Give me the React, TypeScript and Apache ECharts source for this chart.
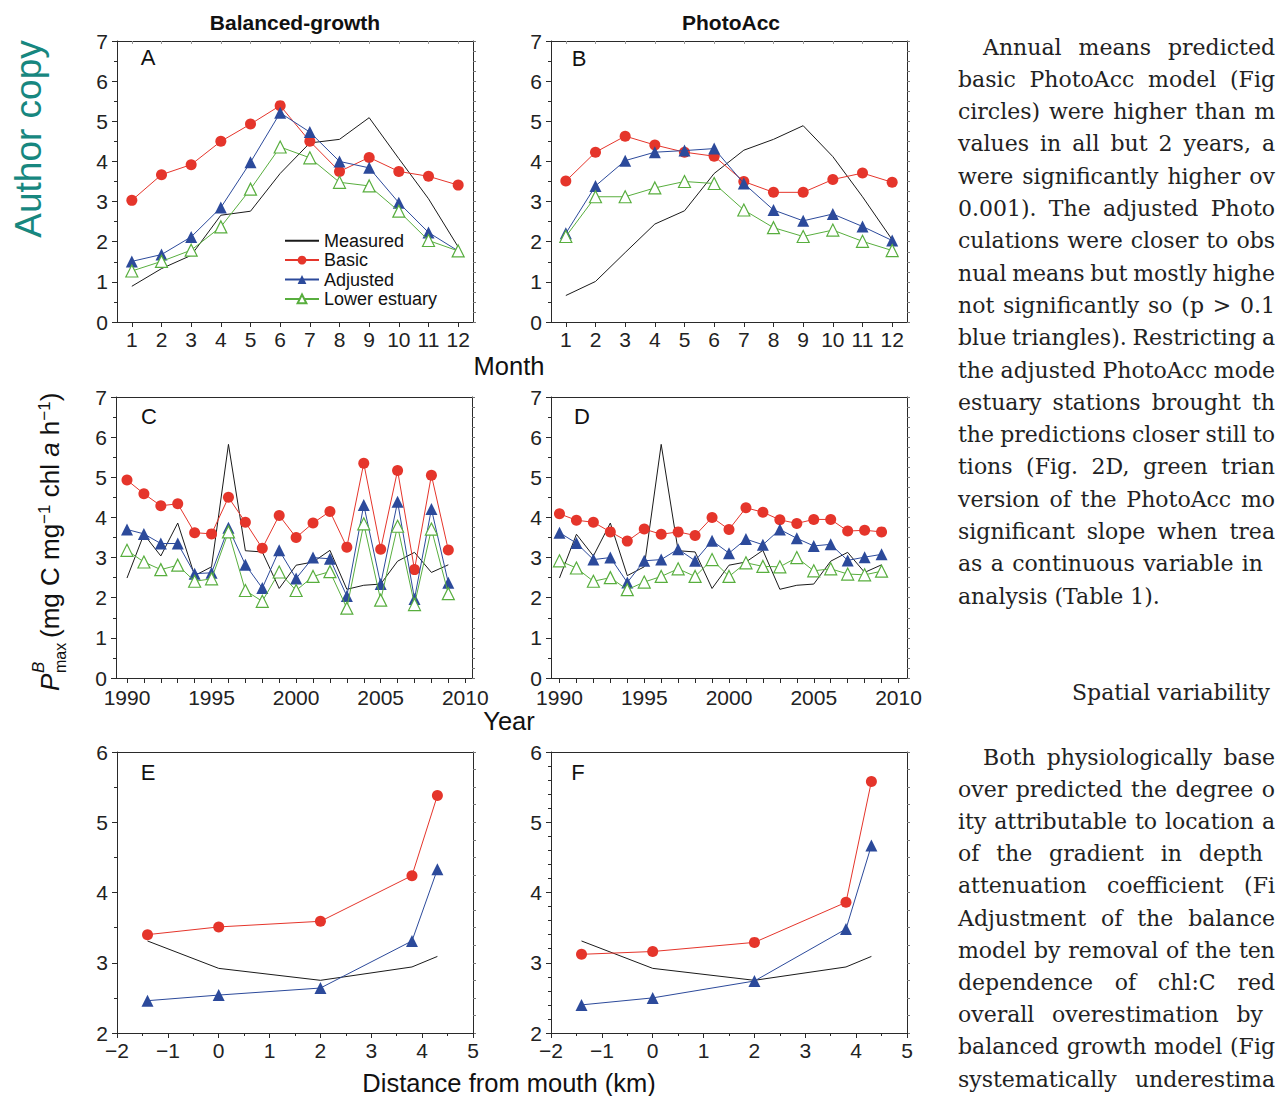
import React, { useEffect, useRef } from "react";
import * as echarts from "echarts";

// ---------- data ----------
const months = [1, 2, 3, 4, 5, 6, 7, 8, 9, 10, 11, 12];
const years = [1990, 1991, 1992, 1993, 1994, 1995, 1996, 1997, 1998, 1999, 2000, 2001, 2002, 2003, 2004, 2005, 2006, 2007, 2008, 2009];
const yearLabelValues = [1990, 1995, 2000, 2005, 2010];
const yearTickValues = [1990, 1991, 1992, 1993, 1994, 1995, 1996, 1997, 1998, 1999, 2000, 2001, 2002, 2003, 2004, 2005, 2006, 2007, 2008, 2009, 2010];
const distances = [-1.4, 0, 2, 3.8, 4.3];

const measuredBalancedMonthly = [0.89, 1.33, 1.66, 2.66, 2.76, 3.7, 4.46, 4.55, 5.09, 4.07, 3.07, 1.87];
const basicBalancedMonthly = [3.03, 3.67, 3.92, 4.5, 4.93, 5.39, 4.5, 3.75, 4.1, 3.75, 3.63, 3.41];
const adjustedBalancedMonthly = [1.51, 1.68, 2.12, 2.85, 3.98, 5.21, 4.73, 4.0, 3.84, 2.97, 2.23, 1.77];
const lowerBalancedMonthly = [1.27, 1.51, 1.79, 2.37, 3.31, 4.36, 4.09, 3.48, 3.39, 2.76, 2.03, 1.77];

const measuredPhotoMonthly = [0.66, 1.01, 1.73, 2.44, 2.77, 3.7, 4.28, 4.55, 4.89, 4.12, 3.12, 2.05];
const basicPhotoMonthly = [3.51, 4.23, 4.63, 4.41, 4.23, 4.13, 3.5, 3.23, 3.23, 3.55, 3.71, 3.48];
const adjustedPhotoMonthly = [2.21, 3.39, 4.02, 4.23, 4.27, 4.32, 3.45, 2.79, 2.52, 2.69, 2.38, 2.03];
const lowerPhotoMonthly = [2.13, 3.12, 3.12, 3.34, 3.5, 3.45, 2.79, 2.35, 2.13, 2.29, 2.01, 1.78];

const measuredAnnual = [2.49, 3.58, 3.04, 3.86, 2.55, 2.77, 5.82, 3.17, 3.14, 2.23, 2.81, 2.89, 3.18, 2.21, 2.31, 2.34, 2.91, 3.13, 2.63, 2.82];
const basicBalancedAnnual = [4.93, 4.59, 4.29, 4.34, 3.62, 3.59, 4.5, 3.88, 3.23, 4.05, 3.5, 3.86, 4.15, 3.26, 5.35, 3.21, 5.17, 2.7, 5.05, 3.19];
const adjustedBalancedAnnual = [3.7, 3.59, 3.35, 3.35, 2.6, 2.62, 3.74, 2.82, 2.24, 3.18, 2.48, 3.0, 2.97, 2.04, 4.31, 2.34, 4.39, 1.97, 4.21, 2.37];
const lowerBalancedAnnual = [3.18, 2.89, 2.7, 2.81, 2.41, 2.47, 3.64, 2.18, 1.91, 2.64, 2.18, 2.53, 2.65, 1.74, 3.84, 1.94, 3.78, 1.83, 3.71, 2.1];
const basicPhotoAnnual = [4.09, 3.93, 3.88, 3.64, 3.41, 3.71, 3.58, 3.64, 3.55, 4.0, 3.7, 4.24, 4.13, 3.94, 3.85, 3.95, 3.95, 3.66, 3.68, 3.64];
const adjustedPhotoAnnual = [3.62, 3.36, 2.95, 3.0, 2.38, 2.92, 2.95, 3.21, 2.92, 3.42, 3.11, 3.46, 3.32, 3.7, 3.48, 3.29, 3.33, 2.93, 3.01, 3.08];
const lowerPhotoAnnual = [2.92, 2.74, 2.41, 2.5, 2.2, 2.39, 2.53, 2.72, 2.53, 2.95, 2.53, 2.87, 2.78, 2.77, 3.0, 2.67, 2.72, 2.59, 2.57, 2.66];

const measuredSpatial = [3.31, 2.92, 2.75, 2.94, 3.09];
const basicBalancedSpatial = [3.4, 3.51, 3.59, 4.24, 5.38];
const adjustedBalancedSpatial = [2.46, 2.54, 2.64, 3.31, 4.33];
const basicPhotoSpatial = [3.12, 3.16, 3.29, 3.86, 5.58];
const adjustedPhotoSpatial = [2.4, 2.5, 2.74, 3.48, 4.67];

const seriesNames = ["Measured", "Basic", "Adjusted", "Lower estuary"];
const columnTitles = ["Balanced-growth", "PhotoAcc"];
const panelLetters = ["A", "B", "C", "D", "E", "F"];

// ---------- body text ----------
const paragraph1 = [
  "Annual means predicted",
  "basic PhotoAcc model (Fig",
  "circles) were higher than m",
  "values in all but 2 years, a",
  "were significantly higher ov",
  "0.001). The adjusted Photo",
  "culations were closer to obs",
  "nual means but mostly highe",
  "not significantly so (p > 0.1",
  "blue triangles). Restricting a",
  "the adjusted PhotoAcc mode",
  "estuary stations brought th",
  "the predictions closer still to",
  "tions (Fig. 2D, green trian",
  "version of the PhotoAcc mo",
  "significant slope when trea",
  "as a continuous variable in",
  "analysis (Table 1).",
];
const heading2 = "Spatial variability";
const paragraph2 = [
  "Both physiologically base",
  "over predicted the degree o",
  "ity attributable to location a",
  "of the gradient in depth",
  "attenuation coefficient (Fi",
  "Adjustment of the balance",
  "model by removal of the ten",
  "dependence of chl:C red",
  "overall overestimation by",
  "balanced growth model (Fig",
  "systematically underestima",
];

// ---------- styles ----------
const SANS = "Liberation Sans";
const SERIF = "DejaVu Serif";
const AXIS = "#2a2a2a";
const RED = "#e5352b";
const BLUE = "#2c4a9b";
const GREEN = "#58ae3e";
const BLACK = "#1a1a1a";
const TEXT = "#222222";
const PW = 356;
const PH = 281;

const fmt = (v: number) => (v < 0 ? "\u2212" + Math.abs(v) : String(v));

const seriesStyles: any[] = [
  { symbol: "none", lineStyle: { color: BLACK, width: 1 }, itemStyle: { color: BLACK }, z: 2 },
  { symbol: "circle", symbolSize: 11, lineStyle: { color: RED, width: 1 }, itemStyle: { color: RED }, z: 3 },
  { symbol: "triangle", symbolSize: 12, lineStyle: { color: BLUE, width: 1 }, itemStyle: { color: BLUE }, z: 4 },
  { symbol: "triangle", symbolSize: 12, lineStyle: { color: GREEN, width: 1 }, itemStyle: { color: "#ffffff", borderColor: GREEN, borderWidth: 1.2 }, z: 5 },
];

type Panel = {
  box: [number, number];
  xs: number[];
  xMin: number;
  xMax: number;
  xInterval?: number;
  xMinor?: number;
  xLabels?: number[];
  xTicks?: number[];
  topTicks?: number[];
  xLabelMargin: number;
  yMin: number;
  yMax: number;
  yMinor: number;
  values: (number[] | null)[];
  letterPos: [number, number];
};

const panels: Panel[] = [
  { box: [117, 41], xs: months, xMin: 0.5, xMax: 12.5, xLabels: months, xTicks: months, topTicks: months, xLabelMargin: 8.5, yMin: 0, yMax: 7, yMinor: 2,
    values: [measuredBalancedMonthly, basicBalancedMonthly, adjustedBalancedMonthly, lowerBalancedMonthly], letterPos: [148, 57] },
  { box: [551, 41], xs: months, xMin: 0.5, xMax: 12.5, xLabels: months, xTicks: months, topTicks: months, xLabelMargin: 8.5, yMin: 0, yMax: 7, yMinor: 2,
    values: [measuredPhotoMonthly, basicPhotoMonthly, adjustedPhotoMonthly, lowerPhotoMonthly], letterPos: [579, 58] },
  { box: [116, 397], xs: years, xMin: 1989.35, xMax: 2010.4, xLabels: yearLabelValues, xTicks: yearTickValues, xLabelMargin: 10.5, yMin: 0, yMax: 7, yMinor: 2,
    values: [measuredAnnual, basicBalancedAnnual, adjustedBalancedAnnual, lowerBalancedAnnual], letterPos: [149, 416] },
  { box: [551, 397], xs: years, xMin: 1989.5, xMax: 2010.5, xLabels: yearLabelValues, xTicks: yearTickValues, xLabelMargin: 10.5, yMin: 0, yMax: 7, yMinor: 2,
    values: [measuredAnnual, basicPhotoAnnual, adjustedPhotoAnnual, lowerPhotoAnnual], letterPos: [582, 416] },
  { box: [117, 752], xs: distances, xMin: -2, xMax: 5, xInterval: 1, xMinor: 2, xLabelMargin: 8.5, yMin: 2, yMax: 6, yMinor: 2,
    values: [measuredSpatial, basicBalancedSpatial, adjustedBalancedSpatial, null], letterPos: [148, 772] },
  { box: [551, 752], xs: distances, xMin: -2, xMax: 5, xInterval: 1, xMinor: 2, xLabelMargin: 8.5, yMin: 2, yMax: 6, yMinor: 5,
    values: [measuredSpatial, basicPhotoSpatial, adjustedPhotoSpatial, null], letterPos: [578, 772] },
];

// ---------- text layout helpers ----------
let measureCtx: CanvasRenderingContext2D | null = null;
const TEXT_SIZE = 22;
function measure(s: string): number {
  if (!measureCtx) measureCtx = document.createElement("canvas").getContext("2d");
  if (!measureCtx) return s.length * TEXT_SIZE * 0.58;
  measureCtx.font = `${TEXT_SIZE}px "${SERIF}"`;
  return measureCtx.measureText(s).width;
}

function textEl(text: string, x: number, y: number, extra: any = {}) {
  return {
    type: "text",
    x,
    y,
    silent: true,
    style: {
      text,
      fill: TEXT,
      fontSize: TEXT_SIZE,
      fontFamily: SERIF,
      align: "left",
      textAlign: "left",
      verticalAlign: "middle",
      textVerticalAlign: "middle",
      ...extra,
    },
  };
}

function justifiedLine(text: string, x0: number, y: number, right: number | null) {
  const words = text.split(" ");
  if (right === null || words.length < 2) return [textEl(text, x0, y)];
  const widths = words.map(measure);
  const total = widths.reduce((a, b) => a + b, 0);
  const gap = Math.max(measure(" ") * 0.7, (right - x0 - total) / (words.length - 1));
  const out: any[] = [];
  let x = x0;
  words.forEach((w, i) => {
    out.push(textEl(w, x, y));
    x += widths[i] + gap;
  });
  return out;
}

function buildOption() {
  const grid: any[] = [];
  const xAxis: any[] = [];
  const yAxis: any[] = [];
  const series: any[] = [];
  const tickStyle = { color: AXIS, width: 1 };

  panels.forEach((p, i) => {
    grid.push({ left: p.box[0], top: p.box[1], width: PW, height: PH, containLabel: false });
    xAxis.push({
      type: "value", gridIndex: i, position: "bottom", min: p.xMin, max: p.xMax,
      ...(p.xInterval ? { interval: p.xInterval } : {}),
      axisLine: { show: true, onZero: false, lineStyle: tickStyle },
      axisTick: { show: true, inside: false, length: 5, lineStyle: tickStyle, ...(p.xTicks ? { customValues: p.xTicks } : {}) },
      minorTick: p.xMinor ? { show: true, splitNumber: p.xMinor, length: 3, lineStyle: tickStyle } : { show: false },
      axisLabel: { show: true, fontSize: 21, lineHeight: 17, color: TEXT, fontFamily: SANS, margin: p.xLabelMargin, formatter: fmt, ...(p.xLabels ? { customValues: p.xLabels } : {}) },
      splitLine: { show: false },
    });
    xAxis.push({
      type: "value", gridIndex: i, position: "top", min: p.xMin, max: p.xMax,
      ...(p.xInterval ? { interval: p.xInterval } : {}),
      axisLine: { show: true, onZero: false, lineStyle: tickStyle },
      axisTick: p.topTicks ? { show: true, inside: true, length: 3, lineStyle: { color: "#9a9a9a" }, customValues: p.topTicks } : { show: false },
      axisLabel: { show: false },
      splitLine: { show: false },
    });
    yAxis.push({
      type: "value", gridIndex: i, position: "left", min: p.yMin, max: p.yMax, interval: 1,
      axisLine: { show: true, onZero: false, lineStyle: tickStyle },
      axisTick: { show: true, inside: false, length: 5, lineStyle: tickStyle },
      minorTick: { show: true, splitNumber: p.yMinor, length: 3, lineStyle: tickStyle },
      axisLabel: { show: true, fontSize: 21, lineHeight: 14, color: TEXT, fontFamily: SANS, margin: 9 },
      splitLine: { show: false },
    });
    yAxis.push({
      type: "value", gridIndex: i, position: "right", min: p.yMin, max: p.yMax, interval: 1,
      axisLine: { show: true, onZero: false, lineStyle: tickStyle },
      axisTick: { show: true, inside: false, length: 3, lineStyle: { color: "#777" } },
      minorTick: { show: true, splitNumber: 4, length: 3, lineStyle: { color: "#777" } },
      axisLabel: { show: false },
      splitLine: { show: false },
    });
    p.values.forEach((vals, k) => {
      if (!vals) return;
      series.push({
        type: "line",
        name: seriesNames[k],
        xAxisIndex: i * 2,
        yAxisIndex: i * 2,
        data: p.xs.map((x, j) => [x, vals[j]]),
        ...seriesStyles[k],
      });
    });
  });

  const elements: any[] = [];
  // column titles
  elements.push(textEl(columnTitles[0], 295, 22, { fontFamily: SANS, fontSize: 21, fontWeight: "bold", fill: "#111", align: "center", textAlign: "center" }));
  elements.push(textEl(columnTitles[1], 731, 22, { fontFamily: SANS, fontSize: 21, fontWeight: "bold", fill: "#111", align: "center", textAlign: "center" }));
  // panel letters
  panels.forEach((p, i) => {
    elements.push(textEl(panelLetters[i], p.letterPos[0], p.letterPos[1], { fontFamily: SANS, fontSize: 22, fill: "#111", align: "center", textAlign: "center" }));
  });
  // axis titles
  const axisTitle = { fontFamily: SANS, fontSize: 25.5, fill: "#111", align: "center", textAlign: "center" };
  elements.push(textEl("Month", 509, 366, axisTitle));
  elements.push(textEl("Year", 509, 721, axisTitle));
  elements.push(textEl("Distance from mouth (km)", 509, 1083, axisTitle));
  // y axis title (rotated)
  const yl = { fontFamily: SANS, fill: "#111" };
  elements.push({
    type: "group",
    x: 50,
    y: 534,
    rotation: Math.PI / 2,
    silent: true,
    children: [
      textEl("P", -157, 0, { ...yl, fontSize: 26, fontStyle: "italic" }),
      textEl("B", -139, -12, { ...yl, fontSize: 17, fontStyle: "italic" }),
      textEl("max", -139, 10, { ...yl, fontSize: 16 }),
      textEl("(mg C mg{s|\u22121} chl {i|a} h{s|\u22121})", -104, 0, {
        ...yl, fontSize: 26,
        rich: {
          i: { ...yl, fontSize: 26, fontStyle: "italic" },
          s: { ...yl, fontSize: 17, verticalAlign: "top", padding: [0, 0, 12, 0] },
        },
      }),
    ],
  });
  // author copy
  elements.push({
    type: "text",
    x: 28,
    y: 139,
    rotation: Math.PI / 2,
    silent: true,
    style: { text: "Author copy", fill: "#17877f", fontSize: 37, fontFamily: SANS, align: "center", textAlign: "center", verticalAlign: "middle", textVerticalAlign: "middle" },
  });
  // body text
  const R = 1275;
  const rightEnds1: (number | null)[] = paragraph1.map((_, i) => (i === paragraph1.length - 1 ? null : i === 16 ? 1263 : R));
  paragraph1.forEach((line, i) => {
    elements.push(...justifiedLine(line, i === 0 ? 983 : 958, 47 + i * 32.3, rightEnds1[i]));
  });
  elements.push(textEl(heading2, 1072, 692));
  paragraph2.forEach((line, i) => {
    const right = i === 3 || i === 8 ? 1263 : R;
    elements.push(...justifiedLine(line, i === 0 ? 983 : 958, 757 + i * 32.2, right));
  });

  return {
    animation: false,
    backgroundColor: "#ffffff",
    textStyle: { fontFamily: SANS },
    grid,
    xAxis,
    yAxis,
    series,
    legend: {
      orient: "vertical",
      left: 284,
      top: 231,
      padding: 0,
      itemWidth: 34,
      itemHeight: 11,
      itemGap: 0,
      selectedMode: false,
      data: [
        { name: seriesNames[0], itemStyle: { opacity: 0 } },
        seriesNames[1],
        seriesNames[2],
        seriesNames[3],
      ],
      textStyle: { fontSize: 18, color: "#111", fontFamily: SANS, lineHeight: 19.4 },
    },
    graphic: { elements },
  };
}

export default function App() {
  const ref = useRef<HTMLDivElement>(null);
  useEffect(() => {
    document.body.style.margin = "0";
    if (!ref.current) return;
    const chart = echarts.init(ref.current, null, { renderer: "svg" });
    chart.setOption(buildOption() as any);
    return () => chart.dispose();
  }, []);
  return <div ref={ref} style={{ width: 1278, height: 1096 }} />;
}
